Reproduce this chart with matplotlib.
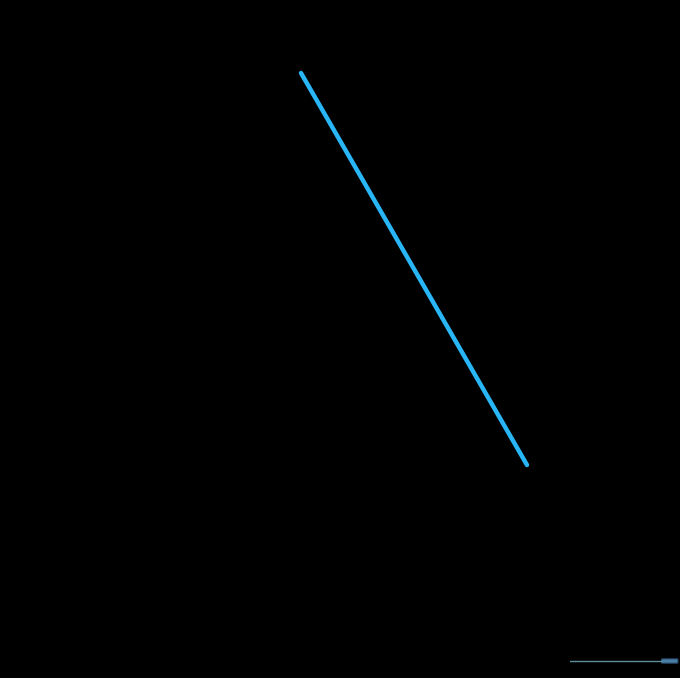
import matplotlib
matplotlib.use("Agg")
import matplotlib.pyplot as plt
from matplotlib.patches import FancyBboxPatch

categories = ["A", "B", "C"]
values = [300, 200, 100]

W, H = 680, 678
fig = plt.figure(figsize=(W / 100, H / 100), dpi=100, facecolor="black")

# main plot area: categories span px 301..527, values span px 73..465
ax = fig.add_axes([301 / W, (H - 465) / H, (527 - 301) / W, (465 - 73) / H])
ax.set_facecolor("black")
x = list(range(len(categories)))
ax.plot(x, values, color="#29B6F6", linewidth=3.2, solid_capstyle="round", clip_on=False)
ax.set_xlim(0, len(categories) - 1)
ax.set_ylim(min(values), max(values))
ax.set_xticks(x)
ax.set_xticklabels(categories, color="black")
ax.tick_params(colors="black", length=0)
for s in ax.spines.values():
    s.set_visible(False)
ax.set_yticks([])
ax.set_xticks([])

# small slider at bottom right
sl = fig.add_axes([570 / W, (H - 664) / H, (679 - 570) / W, 6 / H])
sl.set_facecolor("black")
sl.set_xlim(0, 1)
sl.set_ylim(0, 1)
sl.axis("off")
sl.plot([0, 0.84], [0.5, 0.5], color="#5f8f9c", linewidth=1.0)
sl.add_patch(FancyBboxPatch((0.84, 0.15), 0.15, 0.7,
                            boxstyle="round,pad=0,rounding_size=0.02",
                            facecolor="#4a7fa8", edgecolor="#2c4f70", linewidth=0.8))

fig.savefig("out.png", dpi=100, facecolor="black")
